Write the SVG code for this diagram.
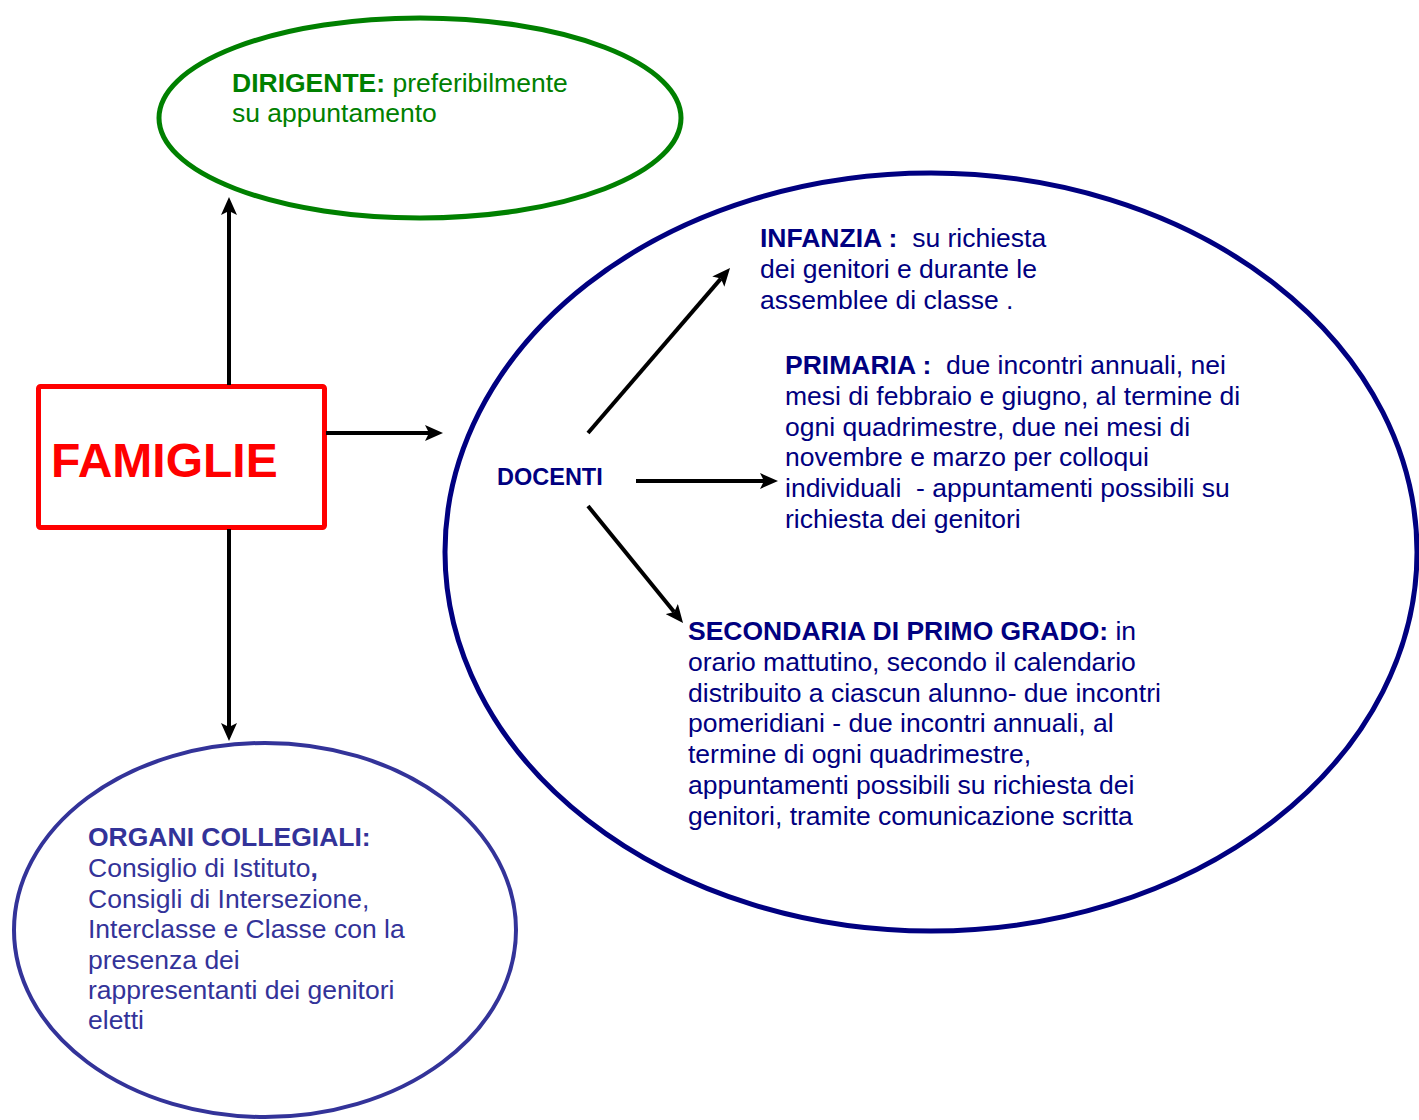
<svg xmlns="http://www.w3.org/2000/svg" width="1419" height="1120" viewBox="0 0 1419 1120">
<style>
text{font-family:"Liberation Sans",Arial,sans-serif;font-size:26.5px;white-space:pre}
.b{font-weight:bold}
.g{fill:#008000}
.n{fill:#000080}
.p{fill:#333399}
.c{stroke:#000;stroke-width:4;fill:none}
</style>
<defs>
<marker id="ah" viewBox="0 0 18 16" markerWidth="18" markerHeight="16" refX="4" refY="8" orient="auto" markerUnits="userSpaceOnUse">
<path d="M0,0 L18,8 L0,16 L4,8 z" fill="#000"/>
</marker>
</defs>
<rect width="1419" height="1120" fill="#fff"/>
<g id="dirigente">
<ellipse cx="420" cy="118" rx="261" ry="100" fill="none" stroke="#008000" stroke-width="5"/>
<text x="232" y="92" class="g"><tspan class="b">DIRIGENTE:</tspan> preferibilmente</text>
<text x="232" y="122" class="g">su appuntamento</text>
</g>
<g id="famiglie">
<rect x="38.5" y="386.5" width="286" height="141" rx="2" fill="#fff" stroke="#ff0000" stroke-width="5"/>
<text x="51" y="477" class="b" style="font-size:48px" fill="#ff0000">FAMIGLIE</text>
</g>
<g id="docenti">
<ellipse cx="931" cy="552" rx="486" ry="379" fill="none" stroke="#000080" stroke-width="5"/>
<text x="497" y="485" class="b n" style="font-size:23.5px">DOCENTI</text>
</g>
<g id="infanzia">
<text x="760" y="247" class="n"><tspan class="b">INFANZIA :</tspan>  su richiesta</text>
<text x="760" y="278" class="n">dei genitori e durante le</text>
<text x="760" y="309" class="n">assemblee di classe .</text>
</g>
<g id="primaria">
<text x="785" y="374" class="n"><tspan class="b">PRIMARIA :</tspan>  due incontri annuali, nei</text>
<text x="785" y="405" class="n">mesi di febbraio e giugno, al termine di</text>
<text x="785" y="436" class="n">ogni quadrimestre, due nei mesi di</text>
<text x="785" y="466" class="n">novembre e marzo per colloqui</text>
<text x="785" y="497" class="n">individuali  - appuntamenti possibili su</text>
<text x="785" y="528" class="n">richiesta dei genitori</text>
</g>
<g id="secondaria">
<text x="688" y="640" class="n"><tspan class="b">SECONDARIA DI PRIMO GRADO:</tspan> in</text>
<text x="688" y="671" class="n">orario mattutino, secondo il calendario</text>
<text x="688" y="702" class="n">distribuito a ciascun alunno- due incontri</text>
<text x="688" y="732" class="n">pomeridiani - due incontri annuali, al</text>
<text x="688" y="763" class="n">termine di ogni quadrimestre,</text>
<text x="688" y="794" class="n">appuntamenti possibili su richiesta dei</text>
<text x="688" y="825" class="n">genitori, tramite comunicazione scritta</text>
</g>
<g id="organi">
<ellipse cx="265" cy="930" rx="251" ry="187" fill="none" stroke="#333399" stroke-width="4"/>
<text x="88" y="846" class="b p">ORGANI COLLEGIALI:</text>
<text x="88" y="877" class="p">Consiglio di Istituto<tspan class="b">,</tspan></text>
<text x="88" y="908" class="p">Consigli di Intersezione,</text>
<text x="88" y="938" class="p">Interclasse e Classe con la</text>
<text x="88" y="969" class="p">presenza dei</text>
<text x="88" y="999" class="p">rappresentanti dei genitori</text>
<text x="88" y="1029" class="p">eletti</text>
</g>
<g id="connectors">
<line class="c" x1="229" y1="385" x2="229" y2="211" marker-end="url(#ah)"/>
<line class="c" x1="229" y1="529" x2="229" y2="727" marker-end="url(#ah)"/>
<line class="c" x1="326" y1="433" x2="429" y2="433" marker-end="url(#ah)"/>
<line class="c" x1="588" y1="433" x2="720.9" y2="278.6" marker-end="url(#ah)"/>
<line class="c" x1="636" y1="481" x2="764" y2="481" marker-end="url(#ah)"/>
<line class="c" x1="588" y1="506" x2="674.2" y2="612.1" marker-end="url(#ah)"/>
</g>
</svg>
